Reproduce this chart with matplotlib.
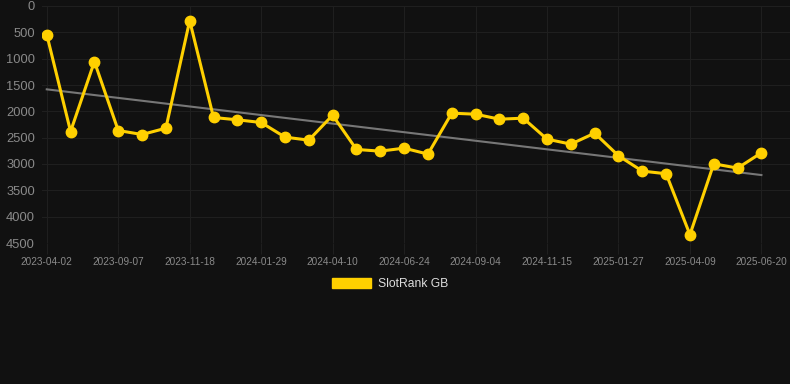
import numpy as np
import matplotlib.pyplot as plt
from matplotlib.patches import Patch

plt.rcParams['font.family'] = ['Liberation Sans', 'DejaVu Sans']

# rank readings, one per snapshot (evenly spaced on the axis)
ranks = [543, 2383, 1055, 2364, 2440, 2320, 278, 2117, 2161, 2212,
         2490, 2547, 2073, 2724, 2756, 2699, 2812, 2035, 2054, 2149,
         2130, 2528, 2623, 2414, 2844, 3135, 3185, 4342, 2996, 3078, 2787]
tick_pos = [0, 3, 6, 9, 12, 15, 18, 21, 24, 27, 30]
tick_labels = ['2023-04-02', '2023-09-07', '2023-11-18', '2024-01-29', '2024-04-10',
               '2024-06-24', '2024-09-04', '2024-11-15', '2025-01-27', '2025-04-09',
               '2025-06-20']
y_ticks = [0, 500, 1000, 1500, 2000, 2500, 3000, 3500, 4000, 4500]

bg = '#111111'
gold = '#FFD000'
grid_c = '#1f1f1f'

x = np.arange(len(ranks))
slope, icpt = np.polyfit(x, ranks, 1)

fig = plt.figure(figsize=(7.9, 3.84), dpi=100, facecolor=bg)
ax = fig.add_axes([42 / 790, 1 - 243 / 384, 748 / 790, 237 / 384])
ax.set_facecolor(bg)

ax.plot(x, slope * x + icpt, color='#777777', lw=1.5, zorder=2)
ax.plot(x, ranks, color=gold, lw=2.2, marker='o', ms=7.5, zorder=3)

ax.set_ylim(4500, 0)
ax.set_xlim(-0.2, 31.2)
ax.set_yticks(y_ticks)
ax.set_yticklabels([str(v) for v in y_ticks])
ax.set_xticks(tick_pos)
ax.set_xticklabels(tick_labels)

ax.grid(True, color=grid_c, lw=0.8)
for s in ax.spines.values():
    s.set_visible(False)
ax.tick_params(axis='y', length=0, pad=5, labelsize=9.3, labelcolor='#8a8a8a')
ax.tick_params(axis='x', length=8, color=grid_c, pad=2, labelsize=7.2, labelcolor='#8a8a8a')

fig.legend(handles=[Patch(facecolor=gold, edgecolor=gold, label='SlotRank GB')],
           loc='center', bbox_to_anchor=(390 / 790, 1 - 284 / 384), frameon=False,
           handlelength=3.3, handleheight=0.9, handletextpad=0.55,
           labelcolor='#dddddd', fontsize=8.7)

fig.savefig('out.png', dpi=100, facecolor=bg)
